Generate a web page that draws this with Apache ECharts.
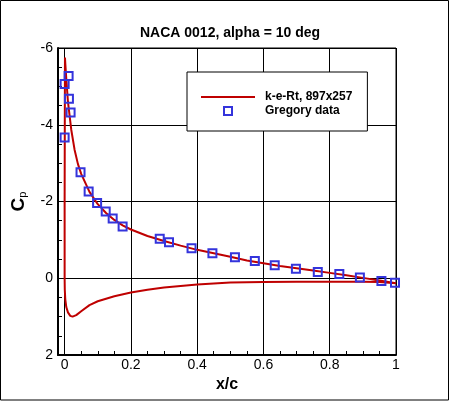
<!DOCTYPE html>
<html>
<head>
<meta charset="utf-8">
<script src="https://cdn.jsdelivr.net/npm/echarts@6/dist/echarts.min.js"></script>
<style>
html,body{margin:0;padding:0;background:#fff;}
#chart{width:450px;height:401px;}
</style>
</head>
<body>
<div id="chart"></div>
<script>
// Upper surface CFD (trailing edge -> leading edge)
var upperX = [1.0, 0.95, 0.9, 0.85, 0.8, 0.75, 0.7, 0.65, 0.6, 0.55, 0.5, 0.45, 0.4, 0.35, 0.3, 0.25, 0.2, 0.175, 0.15, 0.125, 0.1, 0.075, 0.05, 0.04, 0.03, 0.02, 0.01, 0.005, 0.002, 0.001];
var upperCp = [0.13, 0.06, -0.01, -0.08, -0.14, -0.2, -0.26, -0.32, -0.39, -0.46, -0.56, -0.65, -0.74, -0.85, -0.97, -1.1, -1.27, -1.38, -1.52, -1.7, -1.93, -2.25, -2.72, -2.98, -3.35, -3.87, -4.6, -5.2, -5.6, -5.75];
// Lower surface CFD (leading edge -> trailing edge)
var lowerX = [0.0005, 0.0, 0.0, 0.0005, 0.002, 0.005, 0.01, 0.017, 0.024, 0.035, 0.05, 0.075, 0.1, 0.15, 0.2, 0.25, 0.3, 0.4, 0.5, 0.6, 0.7, 0.8, 0.9, 0.95, 1.0];
var lowerCp = [-4.0, -2.0, 0.0, 0.3, 0.55, 0.75, 0.89, 0.98, 1.0, 0.96, 0.86, 0.70, 0.60, 0.47, 0.37, 0.30, 0.24, 0.16, 0.11, 0.10, 0.09, 0.09, 0.09, 0.10, 0.13];
// Gregory experimental data
var gregoryX = [0.012, 0.0, 0.013, 0.018, 0.0, 0.048, 0.0725, 0.098, 0.124, 0.145, 0.175, 0.287, 0.315, 0.383, 0.446, 0.514, 0.574, 0.634, 0.698, 0.764, 0.829, 0.891, 0.956, 0.997];
var gregoryCp = [-5.27, -5.06, -4.68, -4.32, -3.67, -2.76, -2.26, -1.96, -1.74, -1.56, -1.35, -1.03, -0.94, -0.78, -0.65, -0.55, -0.45, -0.34, -0.25, -0.16, -0.11, -0.02, 0.07, 0.12];
var seriesNames = ['k-e-Rt, 897x257', 'Gregory data'];
var titleText = 'NACA 0012, alpha = 10 deg';

var FONT = 'Liberation Sans, Arial, Helvetica, sans-serif';
var RED = '#bf0000';
var BLUE = '#3434dc';
var cfdData = [];
for (var i = 0; i < upperX.length; i++) cfdData.push([upperX[i], upperCp[i]]);
for (var j = 0; j < lowerX.length; j++) cfdData.push([lowerX[j], lowerCp[j]]);
var expData = gregoryX.map(function (x, k) { return [x, gregoryCp[k]]; });

var chart = echarts.init(document.getElementById('chart'), null, {renderer: 'canvas'});
chart.setOption({
  animation: false,
  backgroundColor: '#fff',
  graphic: [
    {type: 'rect', shape: {x: 0.5, y: 0.5, width: 448, height: 399.5}, style: {fill: 'none', stroke: '#000', lineWidth: 1}, silent: true},
    {type: 'text', x: 230, y: 33, style: {text: titleText, font: 'bold 14px ' + FONT, fill: '#000', textAlign: 'center', textVerticalAlign: 'middle'}}
  ],
  grid: {left: 58, right: 54, top: 48, bottom: 46, show: true, borderColor: '#000', borderWidth: 1, backgroundColor: 'transparent'},
  legend: {
    data: [
      {name: seriesNames[0], icon: 'path://M0,0L54,0L54,2L0,2Z', itemStyle: {color: RED, borderWidth: 0}},
      {name: seriesNames[1], icon: 'path://M0,0L10,0L10,10L0,10Z', itemStyle: {color: 'rgba(0,0,0,0)', borderColor: BLUE, borderWidth: 2}}
    ],
    orient: 'vertical',
    left: 187, top: 72,
    padding: [18, 15, 13, 14],
    itemGap: 0,
    itemWidth: 54,
    itemHeight: 8,
    symbolKeepAspect: true,
    borderColor: '#000', borderWidth: 1,
    backgroundColor: '#fff',
    selectedMode: false,
    textStyle: {fontFamily: FONT, fontSize: 12, fontWeight: 'bold', color: '#000', lineHeight: 14, padding: [0, 0, 0, 5]}
  },
  xAxis: {
    type: 'value', min: -0.02, max: 1, splitNumber: 5,
    name: 'x/c', nameLocation: 'middle', nameGap: 17,
    nameTextStyle: {fontFamily: FONT, fontSize: 16, fontWeight: 'bold', color: '#000'},
    axisLine: {onZero: false, lineStyle: {color: '#000', width: 2}},
    axisTick: {show: true, inside: true, length: 4, lineStyle: {color: '#000'}},
    minorTick: {show: true, splitNumber: 4, length: 4, lineStyle: {color: '#000'}},
    splitLine: {show: true, lineStyle: {color: '#000', width: 1}},
    axisLabel: {fontFamily: FONT, fontSize: 14, color: '#000', margin: 3,
      formatter: function (v) { return v < 0 ? '' : String(Math.round(v * 10) / 10); }}
  },
  yAxis: {
    type: 'value', min: -6, max: 2, interval: 2, inverse: true,
    name: '{c|C}{p|p}', nameLocation: 'middle', nameGap: 30, nameRotate: 90,
    nameTextStyle: {
      rich: {
        c: {fontFamily: FONT, fontSize: 19, fontWeight: 'bold', color: '#000', lineHeight: 19},
        p: {fontFamily: FONT, fontSize: 11, color: '#000', verticalAlign: 'bottom', lineHeight: 8}
      }
    },
    axisLine: {onZero: false, lineStyle: {color: '#000', width: 2}},
    axisTick: {show: true, inside: true, length: 4, lineStyle: {color: '#000'}},
    minorTick: {show: true, splitNumber: 4, length: 4, lineStyle: {color: '#000'}},
    splitLine: {show: true, lineStyle: {color: '#000', width: 1}},
    axisLabel: {fontFamily: FONT, fontSize: 14, color: '#000', margin: 5}
  },
  series: [
    {
      name: seriesNames[0], type: 'line', data: cfdData, symbol: 'none', smooth: false,
      lineStyle: {color: RED, width: 2}, itemStyle: {color: RED}, z: 2
    },
    {
      name: seriesNames[1], type: 'scatter', data: expData, symbol: 'rect', symbolSize: 8,
      itemStyle: {color: 'rgba(0,0,0,0)', borderColor: BLUE, borderWidth: 2, opacity: 1}, z: 3
    }
  ]
});
</script>
</body>
</html>
